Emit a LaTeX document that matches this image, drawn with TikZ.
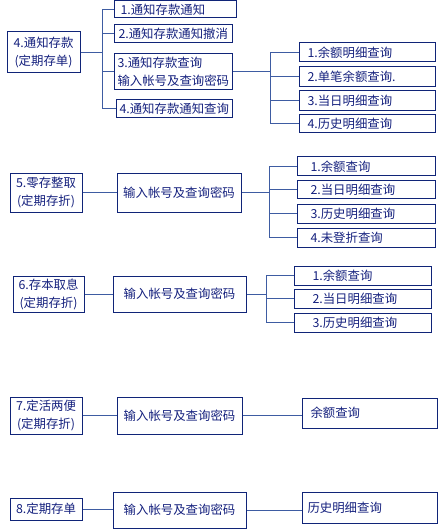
\documentclass[tikz,border=0pt]{standalone}
\usepackage{fontspec}
\newfontfamily\cjk{Noto Sans CJK SC}
\usetikzlibrary{positioning}
\definecolor{boxblue}{RGB}{16,36,120}
\definecolor{txtblue}{RGB}{20,32,125}
\definecolor{linkblue}{RGB}{62,92,162}

\begin{document}
\begin{tikzpicture}[x=1pt, y=-1pt,
  box/.style={draw=boxblue, line width=1pt, text=txtblue, inner sep=0pt,
    align=center, font=\cjk\fontsize{12.4}{18}\selectfont},
  leaf/.style={box, anchor=west, align=left},
  link/.style={draw=linkblue, line width=1pt}]
  \useasboundingbox (0,0) rectangle (438,529);

  % 4. notice deposit
  \node[box, minimum width=73, minimum height=41] (tz) at (43.5,52.5) {4.通知存款\\(定期存单)};
  \node[leaf, text width=110pt, inner xsep=6pt, minimum height=17] (tz1) at (114,9.5) {1.通知存款通知};
  \node[leaf, text width=110pt, inner xsep=4pt, minimum height=18] (tz2) at (114,34) {2.通知存款通知撤消};
  \node[leaf, text width=112pt, inner xsep=3pt, minimum height=36] (tz3) at (114,72) {3.通知存款查询\\输入帐号及查询密码};
  \node[leaf, text width=110pt, inner xsep=3pt, minimum height=18] (tz4) at (116,109) {4.通知存款通知查询};
  \node[leaf, text width=120pt, inner xsep=8pt, minimum height=19] (tzq1) at (299,52.5) {1.余额明细查询};
  \node[leaf, text width=120pt, inner xsep=8pt, minimum height=20] (tzq2) at (299,77) {2.单笔余额查询.};
  \node[leaf, text width=120pt, inner xsep=8pt, minimum height=20] (tzq3) at (299,101) {3.当日明细查询};
  \node[leaf, text width=120pt, inner xsep=8pt, minimum height=18] (tzq4) at (299,124) {4.历史明细查询};
  \coordinate (tzbus) at (102,52.5);
  \coordinate (tzqbus) at (270,72);
  \draw[link] (tz.east) -- (tzbus);
  \foreach \n in {tz1,tz2,tz3,tz4} \draw[link] (tzbus) |- (\n.west);
  \draw[link] (tz3.east) -- (tzqbus);
  \foreach \n in {tzq1,tzq2,tzq3,tzq4} \draw[link] (tzqbus) |- (\n.west);

  % 5. lump-sum deposit
  \node[box, minimum width=72, minimum height=38] (lc) at (46,193) {5.零存整取\\(定期存折)};
  \node[box, minimum width=124, minimum height=38] (lcs) at (179,193) {输入帐号及查询密码};
  \node[leaf, text width=112pt, inner xsep=13pt, minimum height=19] (lc1) at (297,166.5) {1.余额查询};
  \node[leaf, text width=112pt, inner xsep=13pt, minimum height=18] (lc2) at (297,190) {2.当日明细查询};
  \node[leaf, text width=112pt, inner xsep=13pt, minimum height=19] (lc3) at (297,213.5) {3.历史明细查询};
  \node[leaf, text width=112pt, inner xsep=13pt, minimum height=19] (lc4) at (297,237.5) {4.未登折查询};
  \coordinate (lcbus) at (269,193);
  \draw[link] (lc) -- (lcs);
  \draw[link] (lcs.east) -- (lcbus);
  \foreach \n in {lc1,lc2,lc3,lc4} \draw[link] (lcbus) |- (\n.west);

  % 6. interest withdrawal
  \node[box, minimum width=71, minimum height=36] (cb) at (48.5,294) {6.存本取息\\(定期存折)};
  \node[box, minimum width=133, minimum height=36] (cbs) at (179.5,294) {输入帐号及查询密码};
  \node[leaf, text width=101pt, inner xsep=18pt, minimum height=19] (cb1) at (294,275.5) {1.余额查询};
  \node[leaf, text width=101pt, inner xsep=18pt, minimum height=19] (cb2) at (294,298.5) {2.当日明细查询};
  \node[leaf, text width=101pt, inner xsep=18pt, minimum height=19] (cb3) at (294,322.5) {3.历史明细查询};
  \coordinate (cbbus) at (266,294);
  \draw[link] (cb) -- (cbs);
  \draw[link] (cbs.east) -- (cbbus);
  \foreach \n in {cb1,cb2,cb3} \draw[link] (cbbus) |- (\n.west);

  % 7. and 8.
  \node[box, minimum width=72, minimum height=37] (dh) at (46,415.5) {7.定活两便\\(定期存折)};
  \node[box, minimum width=125, minimum height=37] (dhs) at (179.5,415.5) {输入帐号及查询密码};
  \node[leaf, text width=119pt, inner xsep=8pt, minimum height=30] (dhr) at (302,413) {余额查询};
  \draw[link] (dh) -- (dhs);
  \draw[link] (dhs.east) -- (dhs.east -| dhr.west);

  \node[box, minimum width=72, minimum height=22] (dq) at (46,509) {8.定期存单};
  \node[box, minimum width=133, minimum height=36] (dqs) at (179.5,510) {输入帐号及查询密码};
  \node[leaf, text width=125pt, inner xsep=5pt, minimum height=31] (dqr) at (302,507.5) {历史明细查询};
  \draw[link] (dq.east) -- (dq.east -| dqs.west);
  \draw[link] (dqs.east) -- (dqs.east -| dqr.west);
\end{tikzpicture}
\end{document}
